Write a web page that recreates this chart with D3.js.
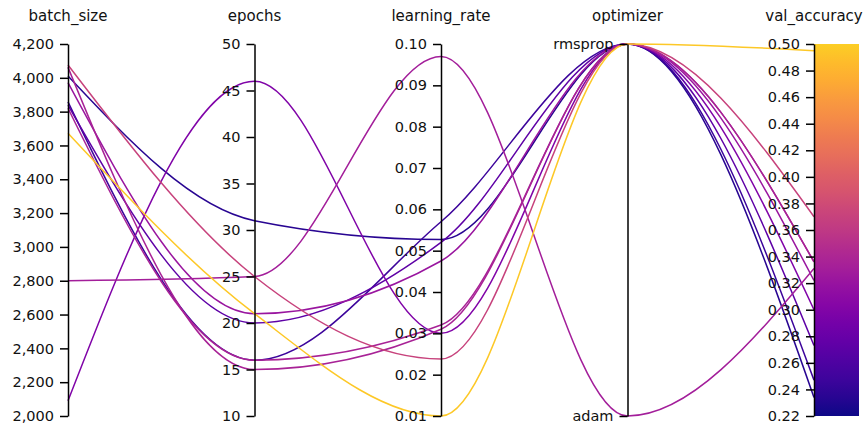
<!DOCTYPE html>
<html>
<head>
<meta charset="utf-8">
<script src="https://cdn.jsdelivr.net/npm/d3@7/dist/d3.min.js"></script>
<style>
  html, body { margin: 0; padding: 0; background: #fff; }
  svg { display: block; font-family: "DejaVu Sans", Verdana, sans-serif; }
</style>
</head>
<body>
<svg id="chart" width="865" height="429"></svg>
<script>
// Hyperparameter sweep runs, one entry per run
const dimensions = ["batch_size", "epochs", "learning_rate", "optimizer", "val_accuracy"];
const batchSize    = [4076, 4062, 4011, 3971, 3858, 3839, 3820, 3672, 2800, 2090];
const epochs       = [25, 15, 31, 21, 16, 20, 16, 21, 25, 46];
const learningRate = [0.0238, 0.031, 0.0527, 0.0475, 0.057, 0.052, 0.032, 0.01, 0.097, 0.030];
const optimizer    = ["rmsprop", "rmsprop", "rmsprop", "rmsprop", "rmsprop", "rmsprop", "rmsprop", "rmsprop", "adam", "rmsprop"];
const valAccuracy  = [0.37, 0.336, 0.234, 0.322, 0.247, 0.273, 0.336, 0.495, 0.331, 0.30];

const optimizerLevels = ["adam", "rmsprop"];
const batchTicks = d3.range(2000, 4201, 200);
const epochTicks = d3.range(10, 51, 5);
const lrTicks = d3.range(1, 11).map(d => d / 100);
const valTicks = d3.range(22, 51, 2).map(d => d / 100);

const runs = batchSize.map((b, i) => ({
  batch_size: b,
  epochs: epochs[i],
  learning_rate: learningRate[i],
  optimizer: optimizer[i],
  val_accuracy: valAccuracy[i]
}));

const svg = d3.select("#chart");
const plotTop = 44, plotBottom = 416;

const x = d3.scalePoint().domain(dimensions).range([68, 814]);

const y = {
  batch_size: d3.scaleLinear().domain([2000, 4200]).range([plotBottom, plotTop]),
  epochs: d3.scaleLinear().domain([10, 50]).range([plotBottom, plotTop]),
  learning_rate: d3.scaleLinear().domain([0.01, 0.10]).range([plotBottom, plotTop]),
  optimizer: d3.scalePoint().domain(optimizerLevels).range([plotBottom, plotTop]),
  val_accuracy: d3.scaleLinear().domain([0.22, 0.50]).range([plotBottom, plotTop])
};

const colorT = d3.scaleLinear().domain([0.22, 0.50]).range([0, 0.9]);
const color = v => d3.interpolatePlasma(colorT(v));

// Colour bar beside the val_accuracy axis
const defs = svg.append("defs");
const grad = defs.append("linearGradient")
  .attr("id", "plasmaBar").attr("x1", 0).attr("x2", 0).attr("y1", 1).attr("y2", 0);
d3.range(0, 1.0001, 0.05).forEach(t => {
  grad.append("stop").attr("offset", t).attr("stop-color", d3.interpolatePlasma(t * 0.9));
});
svg.append("rect")
  .attr("x", x("val_accuracy"))
  .attr("y", plotTop)
  .attr("width", 45)
  .attr("height", plotBottom - plotTop)
  .attr("fill", "url(#plasmaBar)");

// Run lines, drawn so the highest accuracy ends up on top
const line = d3.line().curve(d3.curveMonotoneX);
const ordered = runs.slice().sort((a, b) => a.val_accuracy - b.val_accuracy);
svg.append("g")
  .selectAll("path")
  .data(ordered)
  .join("path")
  .attr("d", d => line(dimensions.map(k => [x(k), y[k](d[k])])))
  .attr("fill", "none")
  .attr("stroke", d => color(d.val_accuracy))
  .attr("stroke-width", 1.5);

// Axes
const fmt = {
  batch_size: d3.format(","),
  epochs: d3.format("d"),
  learning_rate: d3.format(".2f"),
  val_accuracy: d3.format(".2f")
};
const tickVals = {
  batch_size: batchTicks,
  epochs: epochTicks,
  learning_rate: lrTicks,
  val_accuracy: valTicks
};

dimensions.forEach(k => {
  const ax = d3.axisLeft(y[k]).tickSizeOuter(0).tickSizeInner(8).tickPadding(6);
  if (k !== "optimizer") ax.tickValues(tickVals[k]).tickFormat(fmt[k]);
  const g = svg.append("g")
    .attr("transform", `translate(${x(k)},0)`)
    .call(ax);
  g.select(".domain").attr("stroke", "#000").attr("stroke-width", 1.5);
  g.selectAll(".tick line").attr("stroke", "#000").attr("stroke-width", 1.5);
  g.selectAll(".tick text")
    .attr("fill", "#111")
    .style("font-size", "14.5px")
    .style("font-family", "'DejaVu Sans', Verdana, sans-serif");
  svg.append("text")
    .attr("x", x(k))
    .attr("y", 21)
    .attr("text-anchor", "middle")
    .attr("fill", "#111")
    .style("font-size", "15px")
    .text(k);
});
</script>
</body>
</html>
